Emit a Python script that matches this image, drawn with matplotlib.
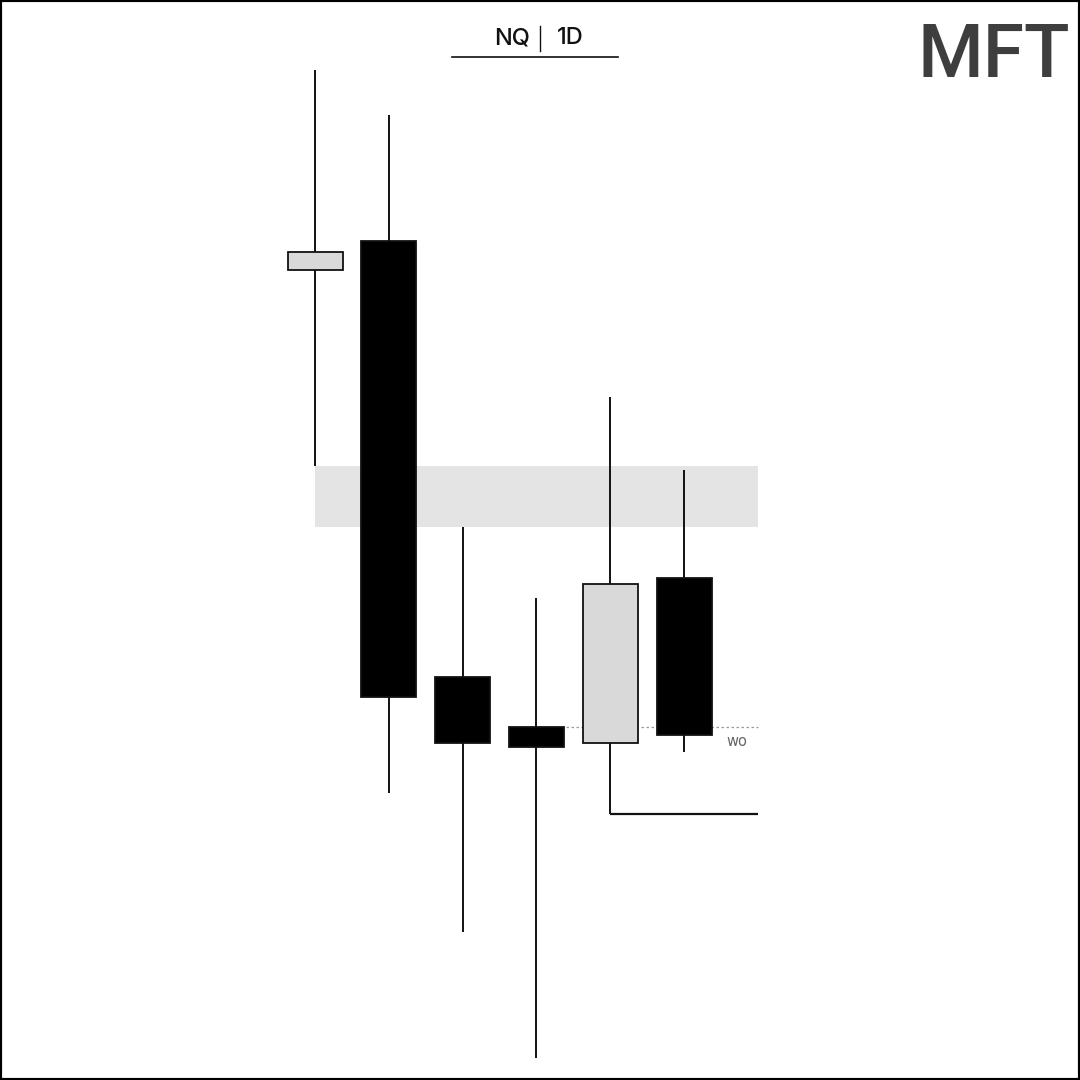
import matplotlib
matplotlib.use("Agg")
import matplotlib.pyplot as plt
from matplotlib.patches import Rectangle
from matplotlib.lines import Line2D

# ---- data (price units) ----
opens  = [810, 839, 403, 353, 337, 502]
highs  = [1010, 965, 553, 482, 683, 610]
lows   = [614, 287, 148, 22, 266, 328]
closes = [828, 383, 337, 333, 496, 345]

zone_low, zone_high = 553, 614
zone_start, zone_end = 0, 6.0
low_line_level, low_line_start, low_line_end = 266, 4, 6.0
wo_level, wo_start, wo_end = 353, 3.4, 6.0
wo_label = "wo"
title_left, title_right = "NQ", "1D"
logo = "MFT"

UP_COLOR = "#d9d9d9"
DOWN_COLOR = "#000000"

fig = plt.figure(figsize=(10.8, 10.8), dpi=100)
ax = fig.add_axes([0, 0, 1, 1])
ax.set_xlim(-315 / 73.8, (1080 - 315) / 73.8)
ax.set_ylim(0, 1080)
ax.axis("off")

# zone
ax.add_patch(Rectangle((zone_start, zone_low), zone_end - zone_start, zone_high - zone_low,
                       facecolor="#e4e4e5", edgecolor="none", zorder=1))
# dotted wo line
ax.plot([wo_start, wo_end], [wo_level, wo_level], color="#999999", lw=0.9,
        linestyle=(0, (2, 2)), zorder=1.5)
ax.text(5.72, wo_level - 7, wo_label, color="#666666", fontsize=10.5,
        ha="center", va="top", family="DejaVu Sans", zorder=3)
# low line
ax.plot([low_line_start, low_line_end], [low_line_level, low_line_level],
        color="#111111", lw=1.6, zorder=2, solid_capstyle="butt")

width = 55 / 73.8
for i, (o, h, l, c) in enumerate(zip(opens, highs, lows, closes)):
    up = c >= o
    ax.plot([i, i], [l, h], color="#111111", lw=1.4, zorder=2, solid_capstyle="butt")
    bottom = min(o, c)
    ax.add_patch(Rectangle((i - width / 2, bottom), width, abs(c - o),
                           facecolor=UP_COLOR if up else DOWN_COLOR,
                           edgecolor="#111111", lw=1.3, zorder=3))

# title
fig.text(512 / 1080, 1 - 38 / 1080, title_left, ha="center", va="center",
         fontsize=17, family="Inter", weight="medium", color="#111111")
fig.text(570 / 1080, 1 - 38 / 1080, title_right, ha="center", va="center",
         fontsize=17, family="Inter", weight="medium", color="#111111")
fig.add_artist(Line2D([540 / 1080, 540 / 1080], [1 - 26 / 1080, 1 - 51 / 1080],
                      color="#111111", lw=1.0))
fig.add_artist(Line2D([452 / 1080, 618 / 1080], [1 - 57 / 1080, 1 - 57 / 1080],
                      color="#111111", lw=1.2))

# logo
fig.text(994 / 1080, 1 - 77 / 1080, logo, ha="center", va="baseline",
         fontsize=54, weight="medium", family="Roboto",
         color="#3e3e3e")

# border
fig.add_artist(Rectangle((0, 0), 1, 1, transform=fig.transFigure, fill=False,
                         edgecolor="#000000", lw=3))

fig.savefig("out.png", dpi=100, facecolor="white")
